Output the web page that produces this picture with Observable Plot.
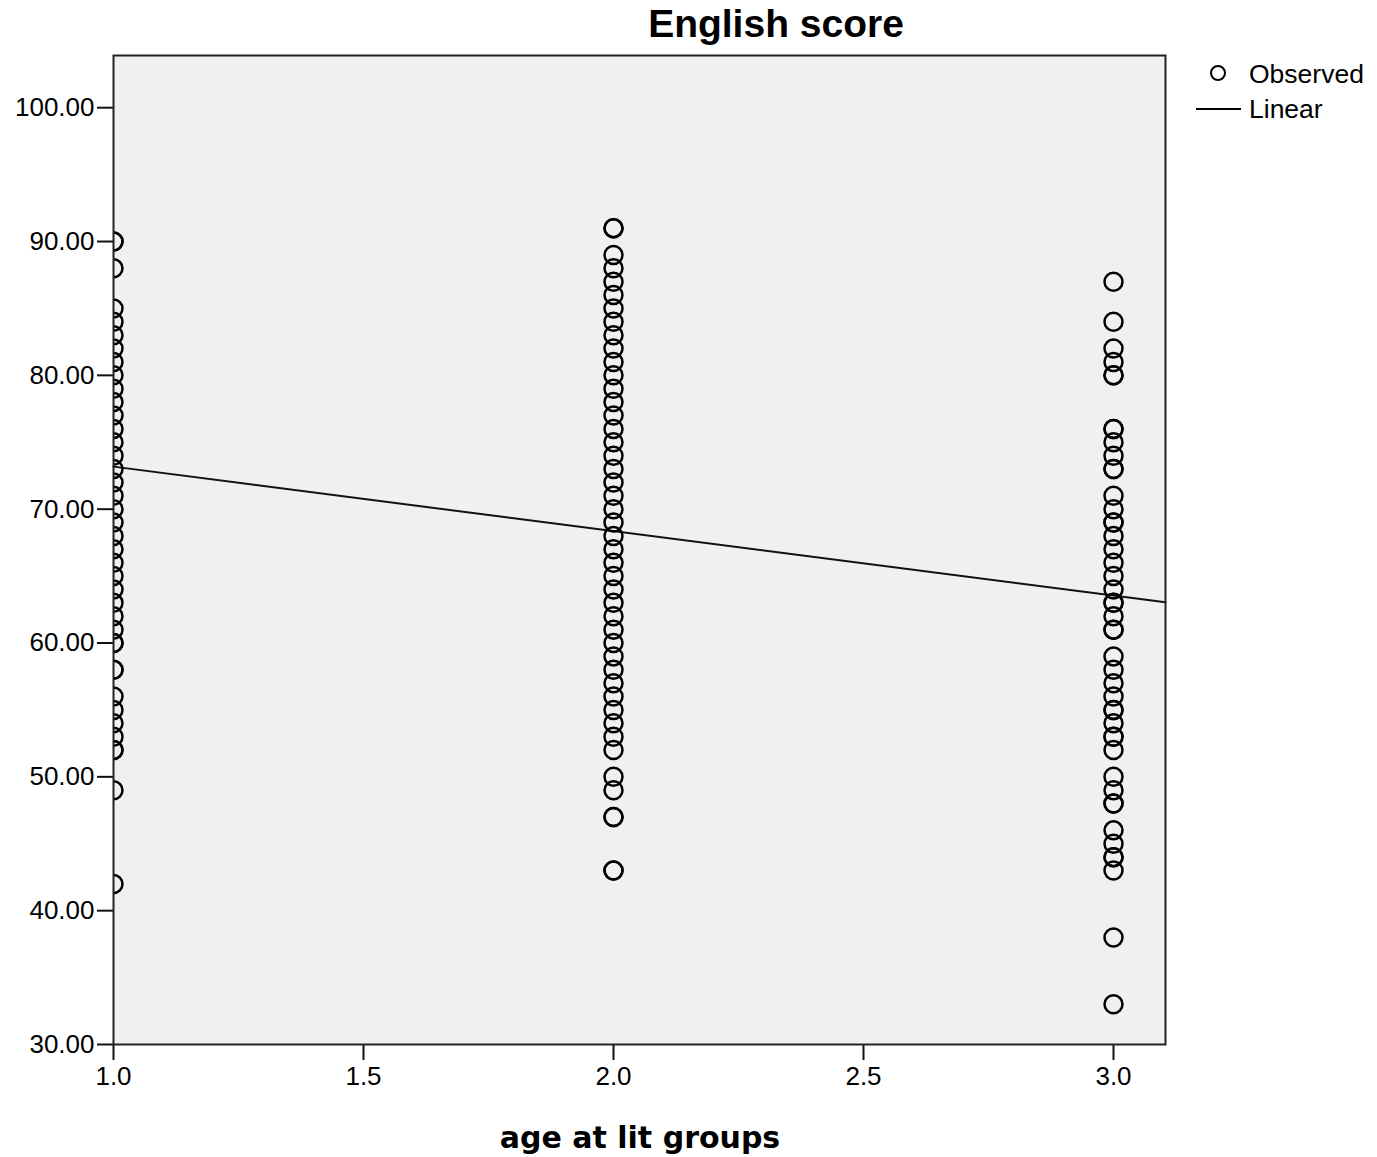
<!DOCTYPE html>
<html>
<head>
<meta charset="utf-8">
<script src="https://cdn.jsdelivr.net/npm/d3@7"></script>
<script src="https://cdn.jsdelivr.net/npm/@observablehq/plot@0.6"></script>
<style>
  html, body { margin: 0; padding: 0; background: #ffffff; }
  #chart { position: relative; width: 1377px; height: 1157px; }
</style>
</head>
<body>
<div id="chart"></div>
<script>
// ---- data ----
const groupX = [1, 2, 3];
const scoresGroup1 = [90, 90, 88, 85, 84, 83, 82, 81, 80, 79, 78, 77, 76, 75, 74, 73, 72, 71, 70, 69, 68, 67, 66, 65, 64, 63, 62, 61, 60, 60, 58, 58, 56, 55, 54, 53, 52, 52, 49, 42];
const scoresGroup2 = [91, 91, 89, 88, 87, 86, 85, 84, 83, 82, 81, 80, 79, 78, 77, 76, 75, 74, 73, 72, 71, 70, 69, 68, 67, 66, 65, 64, 63, 62, 61, 60, 59, 58, 57, 56, 55, 54, 53, 52, 50, 49, 47, 47, 43, 43];
const scoresGroup3 = [87, 84, 82, 81, 80, 80, 76, 76, 75, 74, 73, 73, 71, 70, 69, 69, 68, 67, 66, 65, 64, 63, 63, 62, 61, 61, 59, 58, 57, 56, 55, 55, 54, 53, 53, 52, 50, 49, 48, 48, 46, 45, 44, 44, 43, 38, 33];
const linearIntercept = 78.0;
const linearSlope = -4.82;
const xDomain = [1.0, 3.104];
const yDomain = [30, 103.9];
const xTicks = [1.0, 1.5, 2.0, 2.5, 3.0];
const yTicks = [30, 40, 50, 60, 70, 80, 90, 100];
const titleText = "English score";
const xLabelText = "age at lit groups";
const legendLabels = ["Observed", "Linear"];

// ---- tables built from the arrays ----
const observed = [
  ...scoresGroup1.map(v => ({x: groupX[0], y: v})),
  ...scoresGroup2.map(v => ({x: groupX[1], y: v})),
  ...scoresGroup3.map(v => ({x: groupX[2], y: v}))
];
const fit = xDomain.map(x => ({x, y: linearIntercept + linearSlope * x}));

const svg = Plot.plot({
  width: 1377,
  height: 1157,
  marginLeft: 113,
  marginRight: 212,
  marginTop: 55,
  marginBottom: 113,
  style: {fontFamily: "'Liberation Sans', Arial, sans-serif", fontSize: "26px", color: "#000", background: "#fff"},
  x: {domain: xDomain},
  y: {domain: yDomain},
  marks: [
    Plot.frame({fill: "#f0f0f0"}),
    Plot.axisX({ticks: xTicks, tickFormat: d3.format(".1f"), tickSize: 16, tickPadding: 6, label: null, stroke: "#111", strokeWidth: 2, fontSize: 26}),
    Plot.axisY({ticks: yTicks, tickFormat: d3.format(".2f"), tickSize: 16, tickPadding: 3, label: null, stroke: "#111", strokeWidth: 2, fontSize: 26}),
    Plot.line(fit, {x: "x", y: "y", stroke: "#111", strokeWidth: 2}),
    Plot.dot(observed, {x: "x", y: "y", r: 9, stroke: "#000", strokeWidth: 2.5, fill: "none", clip: true}),
    Plot.frame({stroke: "#222", strokeWidth: 2})
  ]
});

const s = d3.select(svg);
s.append("text")
  .attr("x", 776).attr("y", 37)
  .attr("text-anchor", "middle")
  .attr("font-family", "'Liberation Sans', Arial, sans-serif")
  .attr("font-weight", "bold").attr("font-size", 39).attr("fill", "#000")
  .text(titleText);
s.append("text")
  .attr("x", 640).attr("y", 1148)
  .attr("text-anchor", "middle")
  .attr("font-family", "'DejaVu Sans', sans-serif")
  .attr("font-weight", "bold").attr("font-size", 30).attr("fill", "#000")
  .text(xLabelText);
// legend
s.append("circle").attr("cx", 1218).attr("cy", 73).attr("r", 7)
  .attr("fill", "none").attr("stroke", "#000").attr("stroke-width", 2);
s.append("text").attr("x", 1249).attr("y", 83)
  .attr("text-anchor", "start")
  .attr("font-family", "'Liberation Sans', Arial, sans-serif").attr("font-size", 26.5).attr("fill", "#000")
  .text(legendLabels[0]);
s.append("line").attr("x1", 1196).attr("x2", 1241).attr("y1", 109).attr("y2", 109)
  .attr("stroke", "#000").attr("stroke-width", 2);
s.append("text").attr("x", 1249).attr("y", 118)
  .attr("text-anchor", "start")
  .attr("font-family", "'Liberation Sans', Arial, sans-serif").attr("font-size", 26.5).attr("fill", "#000")
  .text(legendLabels[1]);

document.getElementById("chart").appendChild(svg);
</script>
</body>
</html>
